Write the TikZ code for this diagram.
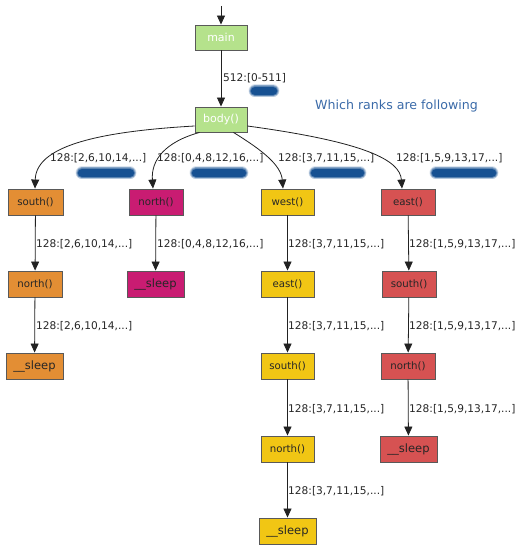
\documentclass[tikz,border=0pt]{standalone}
\usepackage{fontspec}
\setmainfont{DejaVu Sans}
\usetikzlibrary{arrows.meta}
\definecolor{cgreen}{HTML}{B5E28C}
\definecolor{corange}{HTML}{E38E34}
\definecolor{cmag}{HTML}{C91C72}
\definecolor{cyellow}{HTML}{F1C614}
\definecolor{cred}{HTML}{D65252}
\definecolor{cblob}{HTML}{175192}
\definecolor{ctext}{HTML}{3A6AA8}
\definecolor{cedge}{HTML}{222222}
\tikzset{
  fn/.style={draw=black!65, line width=0.9pt, minimum width=54pt, minimum height=26pt, inner sep=2pt, font=\fontsize{10.2}{12}\selectfont, text=black!85},
  fnsleep/.style={fn, minimum width=57pt, font=\fontsize{11.5}{13}\selectfont},
  fgreen/.style={fn, fill=cgreen, minimum width=52pt, minimum height=25pt, text=white, font=\fontsize{11}{13}\selectfont},
  forange/.style={fill=corange},
  fmag/.style={fill=cmag},
  fyel/.style={fill=cyellow},
  fred/.style={fill=cred},
  edge/.style={draw=cedge, line width=0.8pt, -{Triangle[width=8pt,length=9pt]}},
  lab/.style={anchor=west, inner sep=0pt, font=\fontsize{10.6}{12}\selectfont, text=black!85},
  blob/.style={line cap=round, draw=cblob}
}
\begin{document}
\begin{tikzpicture}[x=1pt,y=-1pt]
\useasboundingbox (0,0) rectangle (516,545);
% blurred blobs
\foreach \a/\b/\yy in {255/273/91, 82/130/173, 196/242/173, 315/360/173, 436/492/173}{
  \draw[blob, line width=13pt, draw opacity=0.15] (\a,\yy) -- (\b,\yy);
  \draw[blob, line width=12pt, draw opacity=0.2] (\a,\yy) -- (\b,\yy);
  \draw[blob, line width=11pt, draw opacity=0.3] (\a,\yy) -- (\b,\yy);
  \draw[blob, line width=10pt, draw opacity=0.4] (\a,\yy) -- (\b,\yy);
  \draw[blob, line width=8.5pt] (\a,\yy) -- (\b,\yy);
}
\node[text=ctext, anchor=west, inner sep=0pt, font=\fontsize{12.6}{14}\selectfont] (info) at (315,106) {Which ranks are following};

\coordinate (top) at (221,6);
\node[fgreen] (main) at (221,37.5) {main};
\node[fgreen] (body) at (221,119.5) {body()};

\node[fn, forange, minimum width=55pt] (o1) at (35.5,202) {south()};
\node[fn, forange] (o2) at (35,284) {north()};
\node[fnsleep, forange] (o3) at (34.5,366) {\_\_sleep};

\node[fn, fmag] (m1) at (156,202) {north()};
\node[fnsleep, fmag] (m2) at (155.5,284) {\_\_sleep};

\node[fn, fyel, minimum width=53pt] (y1) at (287.5,202) {west()};
\node[fn, fyel, minimum width=53pt] (y2) at (287.5,284) {east()};
\node[fn, fyel, minimum width=53pt] (y3) at (287.5,366) {south()};
\node[fn, fyel, minimum width=53pt] (y4) at (287.5,449) {north()};
\node[fnsleep, fyel] (y5) at (287.5,531) {\_\_sleep};

\node[fn, fred] (r1) at (408,202) {east()};
\node[fn, fred] (r2) at (409,284) {south()};
\node[fn, fred] (r3) at (408,366) {north()};
\node[fnsleep, fred] (r4) at (408.5,449) {\_\_sleep};

% edges
\draw[edge] (top) -- (main);
\draw[edge] (main) -- (body);
\node[lab] (l0) at (223,78) {512:[0-511]};

\draw[edge] (body.west |- 0,126) .. controls (90,132) and (36,148) .. (o1.north -| 35,0);
\draw[edge] (body.south west) ++(5,0) .. controls (165,142) and (151,160) .. (m1.north -| 153,0);
\draw[edge] (body.south east) ++(-14,0) .. controls (262,150) and (281,165) .. (y1.north -| 283,0);
\draw[edge] (body.east |- 0,126) .. controls (365,142) and (400,160) .. (r1.north -| 402,0);

\node[lab] (l1) at (50,158) {128:[2,6,10,14,...]};
\node[lab] (l2) at (157,158) {128:[0,4,8,12,16,...]};
\node[lab] (l3) at (278,158) {128:[3,7,11,15,...]};
\node[lab] (l4) at (396,158) {128:[1,5,9,13,17,...]};

\draw[edge] (o1) -- (o2);
\draw[edge] (o2) -- (o3);
\draw[edge] (m1) -- (m2);
\draw[edge] (y1) -- (y2);
\draw[edge] (y2) -- (y3);
\draw[edge] (y3) -- (y4);
\draw[edge] (y4) -- (y5);
\draw[edge] (r1) -- (r2);
\draw[edge] (r2) -- (r3);
\draw[edge] (r3) -- (r4);

\node[lab] at (36,244) {128:[2,6,10,14,...]};
\node[lab] at (36,326) {128:[2,6,10,14,...]};
\node[lab] at (157,244) {128:[0,4,8,12,16,...]};
\node[lab] at (288,244) {128:[3,7,11,15,...]};
\node[lab] at (288,326) {128:[3,7,11,15,...]};
\node[lab] at (288,409) {128:[3,7,11,15,...]};
\node[lab] at (288,491) {128:[3,7,11,15,...]};
\node[lab] at (409,244) {128:[1,5,9,13,17,...]};
\node[lab] at (409,326) {128:[1,5,9,13,17,...]};
\node[lab] at (409,409) {128:[1,5,9,13,17,...]};
\end{tikzpicture}
\end{document}
